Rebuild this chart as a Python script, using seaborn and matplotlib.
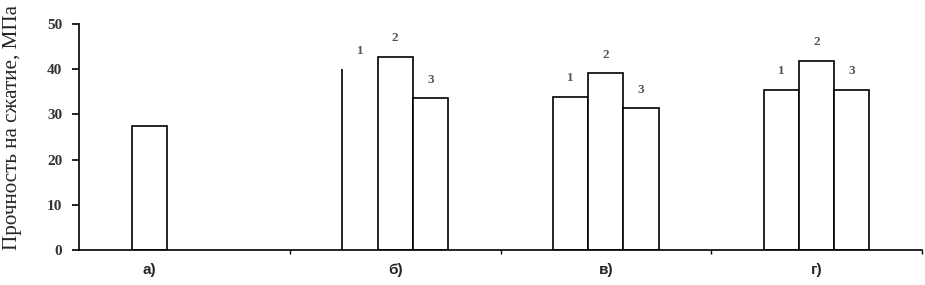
import matplotlib
matplotlib.use("Agg")
import matplotlib.pyplot as plt
import seaborn as sns
import pandas as pd
import numpy as np

groups = ["а)", "б)", "в)", "г)"]
series = ["1", "2", "3"]
group_col = ["а)", "б)", "б)", "б)", "в)", "в)", "в)", "г)", "г)", "г)"]
series_col = ["1", "1", "2", "3", "1", "2", "3", "1", "2", "3"]
values = [27.5, 40.0, 42.8, 33.6, 33.9, 39.1, 31.4, 35.4, 41.9, 35.4]
y_ticks = [0, 10, 20, 30, 40, 50]
y_label = "Прочность на сжатие, МПа"

df = pd.DataFrame({"group": group_col, "series": series_col, "value": values})

sns.set_style("white")
fig = plt.figure(figsize=(9.25, 2.85), dpi=100)
ax = fig.add_axes([0.0854, 0.1228, 0.9114, 0.793])

sns.barplot(data=df, x="group", y="value", hue="series", order=groups,
            hue_order=series, width=0.5, gap=0, dodge=True,
            palette=["white"] * 3, edgecolor="black", linewidth=1.2,
            errorbar=None, legend=False, ax=ax, saturation=1)

# gather bar info
bars = []
for ci, cont in enumerate(ax.containers):
    for p in cont:
        xc = p.get_x() + p.get_width() / 2
        gi = int(round(xc))
        bars.append((ci, gi, p, xc))

# labels above bars (none for group а)
for ci, cont in enumerate(ax.containers):
    labs = []
    for p in cont:
        gi = int(round(p.get_x() + p.get_width() / 2))
        labs.append("" if gi == 0 else series[ci])
    ax.bar_label(cont, labels=labs, padding=9, fontsize=9.5, fontweight="bold",
                 color="#555555", family="Liberation Serif")

# the first bar of group б has only its left edge drawn
for ci, gi, p, xc in bars:
    if ci == 0 and gi == 1:
        p.set_edgecolor("none")
        x0 = p.get_x()
        ax.plot([x0, x0], [0, p.get_height()], color="black", lw=1.2,
                solid_capstyle="butt", zorder=3)

# tick positions: mean of bar centers in each group
centers = []
for gi in range(len(groups)):
    xs = [xc for ci, g, p, xc in bars if g == gi]
    centers.append(np.mean(xs))
ax.set_xticks(centers)
ax.set_xticklabels(groups, fontsize=11, fontweight="bold",
                   family="Liberation Sans")
ax.set_xticks(np.arange(len(groups)) + 0.5, minor=True)
ax.tick_params(axis="x", which="major", length=0, pad=9)
ax.tick_params(axis="x", which="minor", length=3, width=1, color="black",
               direction="out", bottom=True)
ax.set_xlim(-0.5, len(groups) - 0.5)
ax.set_xlabel("")

ax.set_ylim(0, 50)
ax.set_yticks(y_ticks)
ax.set_yticklabels([str(v) for v in y_ticks], fontsize=11, fontweight="bold",
                   family="Liberation Serif", color="#333333")
ax.tick_params(axis="y", length=5, width=1.2, color="black", direction="out",
               left=True, pad=7)
ax.set_ylabel(y_label, family="Liberation Serif", fontsize=15.2)
ax.yaxis.set_label_coords(-0.068, 0.54)

for s in ["top", "right"]:
    ax.spines[s].set_visible(False)
for s in ["left", "bottom"]:
    ax.spines[s].set_color("black")
    ax.spines[s].set_linewidth(1.2)

fig.savefig("out.png", dpi=100)
